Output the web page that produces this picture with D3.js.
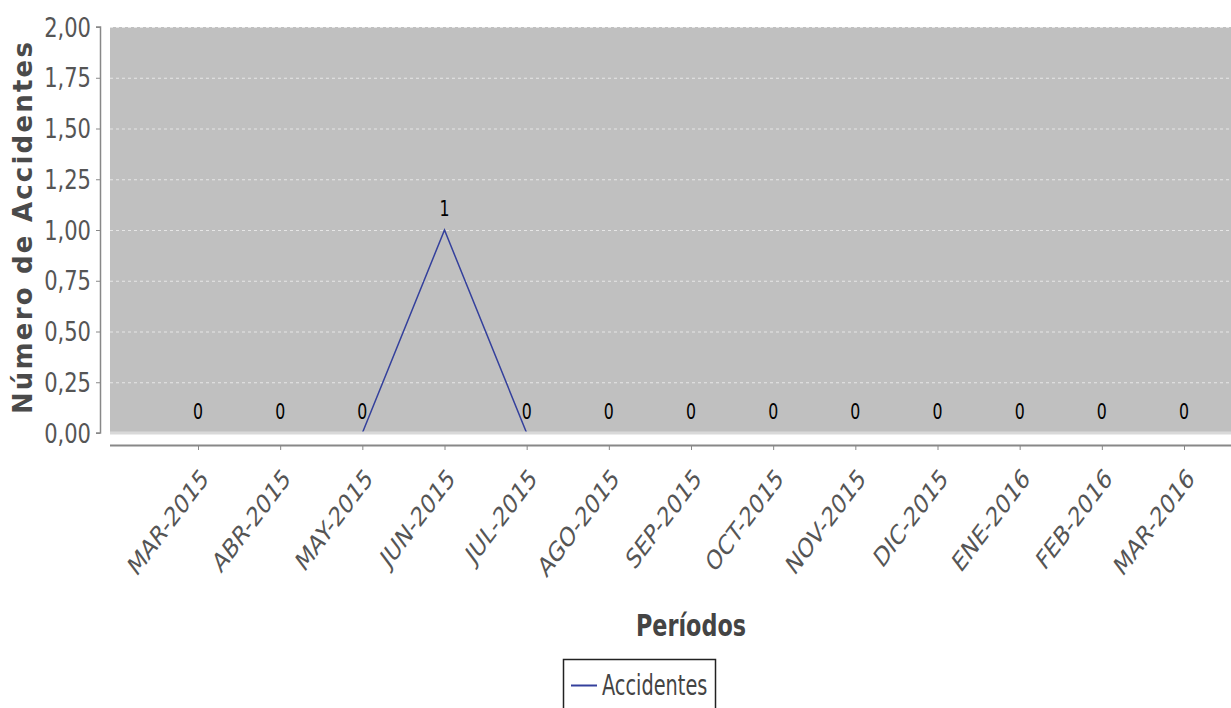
<!DOCTYPE html>
<html><head><meta charset="utf-8">
<script src="https://cdn.jsdelivr.net/npm/d3@7"></script>
<style>body{margin:0;background:#fff}svg{display:block}</style>
</head><body>
<svg id="c" width="1231" height="708"></svg>
<script>
const categories = ["MAR-2015","ABR-2015","MAY-2015","JUN-2015","JUL-2015","AGO-2015","SEP-2015","OCT-2015","NOV-2015","DIC-2015","ENE-2016","FEB-2016","MAR-2016"];
const accidentes = [0,0,0,1,0,0,0,0,0,0,0,0,0];
const yTicks = [0,0.25,0.5,0.75,1,1.25,1.5,1.75,2];
const seriesName = "Accidentes";

const svg = d3.select("#c");
const plot = {left:110, right:1231, top:27, bottom:433};
const x = d3.scalePoint().domain(categories).range([198,1184]);
const y = d3.scaleLinear().domain([0,2]).range([plot.bottom, plot.top]);
const fmt = v => d3.format(".2f")(v).replace(".", ",");
const sans = "'DejaVu Sans',sans-serif";
const lineColor = "#34409c";

svg.append("rect").attr("x",plot.left).attr("y",plot.top)
  .attr("width",plot.right-plot.left).attr("height",plot.bottom-plot.top).attr("fill","#c0c0c0");

// gridlines
svg.append("g").selectAll("line").data(yTicks.filter(d=>d>0)).join("line")
  .attr("x1",plot.left).attr("x2",plot.right)
  .attr("y1",d=>y(d)+0.5).attr("y2",d=>y(d)+0.5)
  .attr("stroke","#e6e6e6").attr("stroke-width",1.2).attr("stroke-dasharray","3,3");

// line
const line = d3.line().x((d,i)=>x(categories[i])).y(d=>y(d));
svg.append("path").datum(accidentes).attr("d",line)
  .attr("fill","none").attr("stroke",lineColor).attr("stroke-width",1.5);

// bottom plot edge (covers the zero segment like in the reference)
svg.append("rect").attr("x",plot.left).attr("y",plot.bottom-1.5)
  .attr("width",plot.right-plot.left).attr("height",3).attr("fill","#d9d9d9");

// value labels
svg.append("g").selectAll("text").data(accidentes).join("text")
  .attr("transform",(d,i)=>`translate(${x(categories[i])},${y(d)-14}) scale(0.75,1)`)
  .attr("text-anchor","middle").attr("font-family",sans).attr("font-size",21)
  .attr("fill","#000").text(d=>d);

// y axis
const ya = svg.append("g").attr("transform","translate(100,0)")
  .call(d3.axisLeft(y).tickValues(yTicks).tickFormat(fmt).tickSize(4).tickPadding(6));
ya.select(".domain").attr("stroke","#888").attr("stroke-width",1.5).attr("d",`M-4,${plot.top}H0.5V${plot.bottom}H-4`);
ya.selectAll(".tick line").attr("stroke","#888");
ya.selectAll(".tick text").attr("font-family",sans).attr("font-size",27).attr("fill","#555")
  .attr("x",null).attr("dy",null)
  .attr("transform","translate(-9,9) scale(0.78,1)");

// x axis
const xa = svg.append("g").attr("transform","translate(0,445)")
  .call(d3.axisBottom(x).tickSize(5).tickPadding(4));
xa.select(".domain").attr("stroke","#888").attr("stroke-width",2).attr("d",`M${plot.left},0.5H${plot.right}`);
xa.selectAll(".tick line").attr("stroke","#888");
xa.selectAll(".tick text").attr("font-family",sans).attr("font-size",27).attr("fill","#555")
  .attr("y",null).attr("dy",null).attr("text-anchor","end")
  .attr("transform","translate(11,35) scale(0.75,1) rotate(-45)");

// axis titles
svg.append("text").attr("transform","translate(691,636) scale(0.72,1)").attr("text-anchor","middle")
  .attr("font-family",sans).attr("font-weight","bold").attr("font-size",31).attr("fill","#444").text("Períodos");
svg.append("text").attr("transform","translate(32,227) rotate(-90)").attr("text-anchor","middle")
  .attr("font-family",sans).attr("font-weight","bold").attr("font-size",26)
  .attr("letter-spacing","2.2").attr("fill","#4a4a4a").text("Número de Accidentes");

// legend
const lg = svg.append("g");
lg.append("rect").attr("x",563.5).attr("y",659.5).attr("width",152).attr("height",60)
  .attr("fill","#fff").attr("stroke","#222").attr("stroke-width",1.5);
lg.append("line").attr("x1",571).attr("x2",597).attr("y1",685.5).attr("y2",685.5)
  .attr("stroke",lineColor).attr("stroke-width",2);
lg.append("text").attr("transform","translate(602,695) scale(0.69,1)").attr("font-family",sans).attr("font-size",28)
  .attr("fill","#444").text(seriesName);
</script>
</body></html>
